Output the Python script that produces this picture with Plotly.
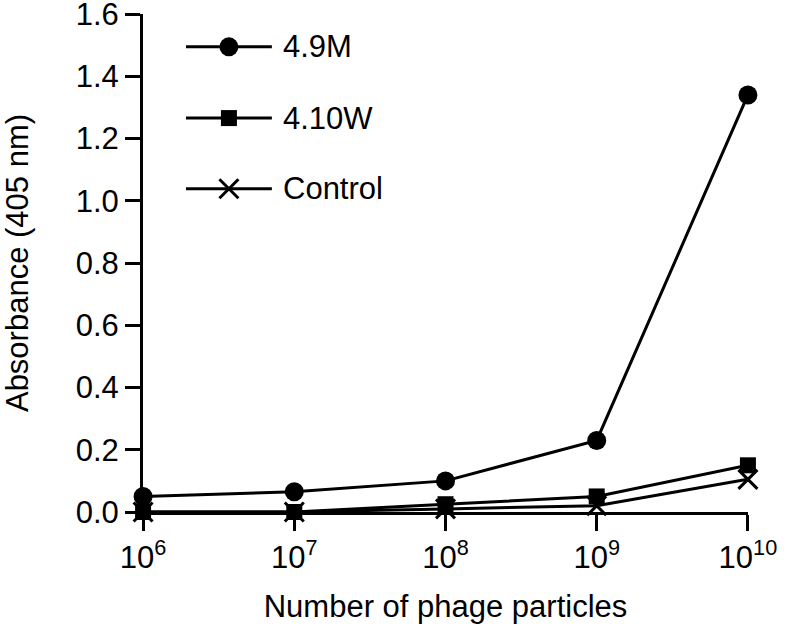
import plotly.graph_objects as go

# phage particle counts (x) and absorbance at 405 nm (y)
particles = [1e6, 1e7, 1e8, 1e9, 1e10]
abs_49m = [0.05, 0.065, 0.10, 0.23, 1.34]
abs_410w = [0.0, 0.0, 0.025, 0.05, 0.15]
abs_control = [0.0, 0.0, 0.01, 0.02, 0.105]

series_names = ["4.9M", "4.10W", "Control"]
x_ticks = [1e6, 1e7, 1e8, 1e9, 1e10]
x_ticktext = ["10<sup>6</sup>", "10<sup>7</sup>", "10<sup>8</sup>", "10<sup>9</sup>", "10<sup>10</sup>"]

FONT = "Liberation Sans, Arial, Helvetica, sans-serif"
FS = 31
symbols = [
    dict(symbol="circle", size=19),
    dict(symbol="square", size=16),
    dict(symbol="x-thin", size=19, line=dict(width=3, color="black")),
]

fig = go.Figure()
for name, ys, sym in zip(series_names, [abs_49m, abs_410w, abs_control], symbols):
    fig.add_trace(go.Scatter(
        x=particles, y=ys, name=name, mode="lines+markers",
        line=dict(color="black", width=3),
        marker=dict(color="black", **sym),
        cliponaxis=False, showlegend=False,
    ))

# hand-drawn style legend on an overlay axis (0..1 of the plot area)
leg_rows = [0.934, 0.791, 0.649]
for name, yrow, sym in zip(series_names, leg_rows, symbols):
    fig.add_trace(go.Scatter(
        x=[0.071, 0.213], y=[yrow, yrow], mode="lines",
        line=dict(color="black", width=3), xaxis="x2", yaxis="y2",
        showlegend=False, hoverinfo="skip",
    ))
    fig.add_trace(go.Scatter(
        x=[0.142], y=[yrow], mode="markers",
        marker=dict(color="black", **sym), xaxis="x2", yaxis="y2",
        showlegend=False, hoverinfo="skip",
    ))
    fig.add_annotation(
        x=0.228, y=yrow, xref="x2", yref="y2", text=name, showarrow=False,
        xanchor="left", yanchor="middle", font=dict(size=FS, color="black", family=FONT),
    )

tickfont = dict(family=FONT, size=FS, color="black")
fig.update_layout(
    width=787, height=631,
    margin=dict(l=143, r=39, t=14, b=119),
    plot_bgcolor="white", paper_bgcolor="white",
    font=dict(family=FONT, size=FS, color="black"),
    xaxis=dict(
        type="log", range=[5.9995, 10.0005], tickvals=x_ticks, ticktext=x_ticktext,
        tickfont=tickfont, automargin=False, ticklabeloverflow="allow",
        ticks="outside", ticklen=16, tickwidth=3, tickcolor="black",
        showline=True, linewidth=3, linecolor="black", showgrid=False, zeroline=False,
        title=dict(text="Number of phage particles", standoff=22, font=dict(size=FS)),
    ),
    yaxis=dict(
        range=[0, 1.6], dtick=0.2, tickformat=".1f",
        tickfont=tickfont, automargin=False, ticklabeloverflow="allow",
        ticks="outside", ticklen=15, tickwidth=3, tickcolor="black",
        showline=True, linewidth=3, linecolor="black", showgrid=False, zeroline=False,
        title=dict(text="Absorbance (405 nm)", standoff=38, font=dict(size=FS)),
    ),
    xaxis2=dict(overlaying="x", range=[0, 1], visible=False, fixedrange=True),
    yaxis2=dict(overlaying="y", range=[0, 1], visible=False, fixedrange=True),
)

fig.write_html(
    "out.html",
    config={"displayModeBar": False},
    post_script="document.body.style.margin='0';",
)
